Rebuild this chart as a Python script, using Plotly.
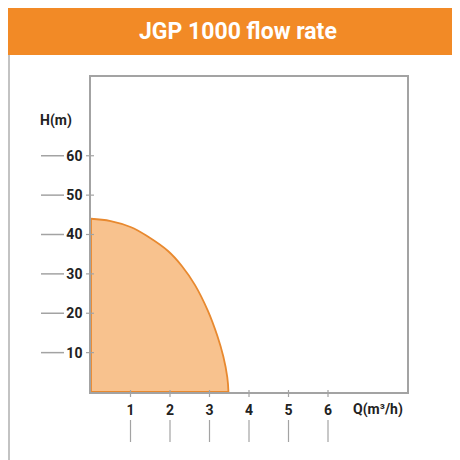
import plotly.graph_objects as go

# curve: flow Q (m3/h) vs head H (m)
flow_q = [0, 0.5, 1.0, 1.45, 1.95, 2.3, 2.63, 2.96, 3.2, 3.35, 3.45, 3.48]
head_h = [44, 43.4, 41.9, 39.4, 35.8, 32.0, 27.2, 20.6, 14.2, 9, 3.8, 0]

x_ticks = [1, 2, 3, 4, 5, 6]
y_ticks = [10, 20, 30, 40, 50, 60]

W, H = 460, 460
L, R, T, B = 83, 61, 69, 76
PW, PH = W - L - R, H - T - B

ORANGE = "#F28A26"
LINE = "#E8892F"
FILL = "#F8C28E"
GREY = "#a3a3a3"


def px_x(p):
    return (p - L) / PW


def px_y(p):
    return (H - B - p) / PH


fig = go.Figure()

# filled area under the curve
fig.add_trace(go.Scatter(
    x=flow_q, y=head_h, mode="lines",
    line=dict(color=LINE, width=1.8, shape="spline", smoothing=1.2),
    fill="tozeroy", fillcolor=FILL, hoverinfo="skip", showlegend=False
))
# outline along the axes
fig.add_trace(go.Scatter(
    x=[flow_q[-1], 0, 0], y=[0, 0, head_h[0]], mode="lines",
    line=dict(color=LINE, width=1.8), hoverinfo="skip", showlegend=False
))

shapes = []
# outer frame and title band
shapes.append(dict(type="rect", xref="paper", yref="paper",
                   x0=px_x(1), x1=px_x(458.5), y0=px_y(458.5), y1=px_y(1),
                   line=dict(color="#b0b0b0", width=1.5), layer="below"))
shapes.append(dict(type="rect", xref="paper", yref="paper",
                   x0=px_x(0), x1=px_x(460), y0=px_y(47), y1=px_y(0),
                   fillcolor=ORANGE, line=dict(width=0), layer="below"))

# dashes left of the y labels and ticks crossing the axis
for v in y_ticks:
    shapes.append(dict(type="line", xref="paper", yref="y",
                       x0=px_x(33), x1=px_x(56), y0=v, y1=v,
                       line=dict(color=GREY, width=1.5)))
    shapes.append(dict(type="line", xref="paper", yref="y",
                       x0=px_x(78), x1=px_x(86), y0=v, y1=v,
                       line=dict(color=GREY, width=1.2)))

# ticks on the x axis and vertical lines below the labels
for v in x_ticks:
    shapes.append(dict(type="line", xref="x", yref="paper",
                       x0=v, x1=v, y0=px_y(382), y1=px_y(389),
                       line=dict(color=GREY, width=1.2)))
    shapes.append(dict(type="line", xref="x", yref="paper",
                       x0=v, x1=v, y0=px_y(412), y1=px_y(434),
                       line=dict(color=GREY, width=1.2)))

font_bold = dict(family="Roboto", size=14, color="#222222", weight="bold")

annotations = [
    dict(text="JGP 1000 flow rate", xref="paper", yref="paper",
         x=px_x(230), y=px_y(23.5), xanchor="center", yanchor="middle", showarrow=False,
         font=dict(family="Roboto", size=23, color="white", weight="bold")),
    dict(text="H(m)", xref="paper", yref="paper", x=px_x(48), y=px_y(113),
         xanchor="center", yanchor="middle", showarrow=False, font=font_bold),
    dict(text="Q(m³/h)", xref="paper", yref="paper", x=px_x(370), y=px_y(401.5),
         xanchor="center", yanchor="middle", showarrow=False, font=font_bold),
]

fig.update_layout(
    width=W, height=H,
    margin=dict(l=L, r=R, t=T, b=B),
    paper_bgcolor="white", plot_bgcolor="white",
    shapes=shapes, annotations=annotations,
    showlegend=False,
)
fig.update_xaxes(
    range=[0, 8], tickvals=x_ticks, ticks="", showgrid=False, zeroline=False,
    showline=True, mirror=True, linecolor=GREY, linewidth=1.5,
    tickfont=font_bold, ticklabelstandoff=4,
)
fig.update_yaxes(
    range=[0, 80], tickvals=y_ticks, ticks="", showgrid=False, zeroline=False,
    showline=True, mirror=True, linecolor=GREY, linewidth=1.5,
    tickfont=font_bold, ticklabelstandoff=4,
)

fig.write_html("out.html")
